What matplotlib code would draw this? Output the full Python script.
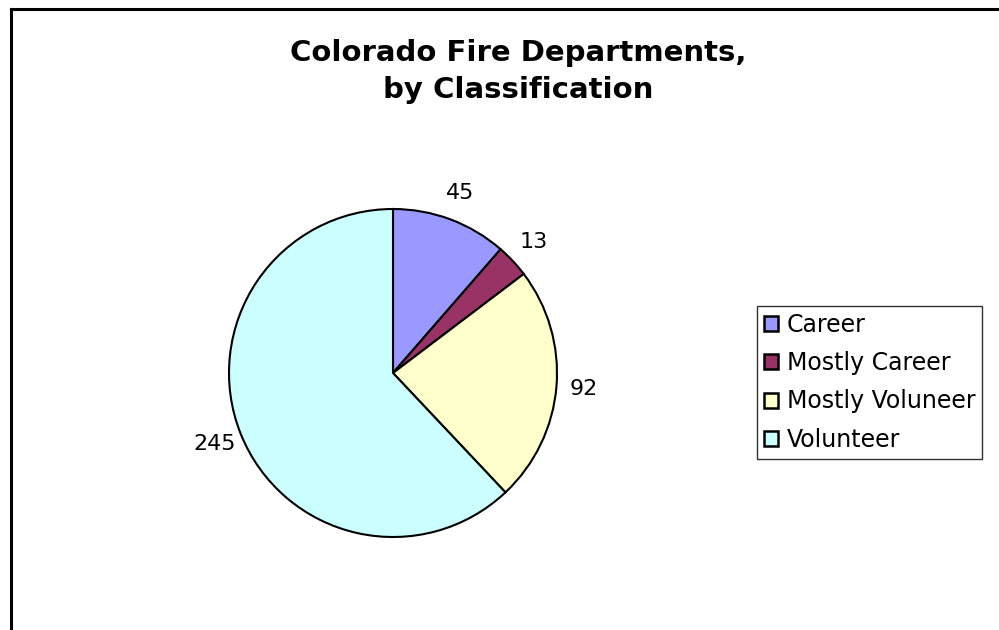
import numpy as np
import matplotlib.pyplot as plt
from matplotlib.patches import Patch
from matplotlib.lines import Line2D

categories = ['Career', 'Mostly Career', 'Mostly Voluneer', 'Volunteer']
counts = [45, 13, 92, 245]
colors = ['#9999FF', '#993366', '#FFFFCC', '#CCFFFF']

W, H = 999, 630
fig = plt.figure(figsize=(W / 100, H / 100), dpi=100)
fig.patch.set_facecolor('white')

# chart-area border (only top and left edges visible)
fig.add_artist(Line2D([10.5 / W, 10.5 / W], [0, 1 - 9 / H], color='black', lw=2.2,
                      transform=fig.transFigure, solid_capstyle='projecting'))
fig.add_artist(Line2D([10.5 / W, 1.0], [1 - 9 / H, 1 - 9 / H], color='black', lw=2.2,
                      transform=fig.transFigure, solid_capstyle='projecting'))

cx, cy, r = 393, 373, 164
ax = fig.add_axes([(cx - r) / W, (H - cy - r) / H, 2 * r / W, 2 * r / H])
wedges, _ = ax.pie(counts, colors=colors, startangle=90, counterclock=False,
                   wedgeprops=dict(edgecolor='black', linewidth=1.5))
ax.set_xlim(-1, 1)
ax.set_ylim(-1, 1)
ax.set_aspect('auto')

# value labels outside each slice
for w, v in zip(wedges, counts):
    ang = np.deg2rad((w.theta1 + w.theta2) / 2)
    d = 1.17
    ax.text(d * np.cos(ang), d * np.sin(ang), str(v), ha='center', va='center',
            fontsize=16, family='DejaVu Sans', clip_on=False)

fig.text(518 / W, 1 - 71.5 / H, 'Colorado Fire Departments,\nby Classification',
         ha='center', va='center', fontsize=21, fontweight='bold',
         linespacing=1.38, family='DejaVu Sans')

handles = [Patch(facecolor=c, edgecolor='black', linewidth=1.8) for c in colors]
leg = fig.legend(handles, categories, loc='upper left',
                 bbox_to_anchor=(757 / W, 1 - 306 / H), fontsize=17,
                 frameon=True, fancybox=False, edgecolor='black',
                 handlelength=0.6, handleheight=0.6, handletextpad=0.35,
                 labelspacing=0.6, borderpad=0.3, borderaxespad=0)
leg.get_frame().set_linewidth(1.0)

fig.savefig('out.png', dpi=100)
